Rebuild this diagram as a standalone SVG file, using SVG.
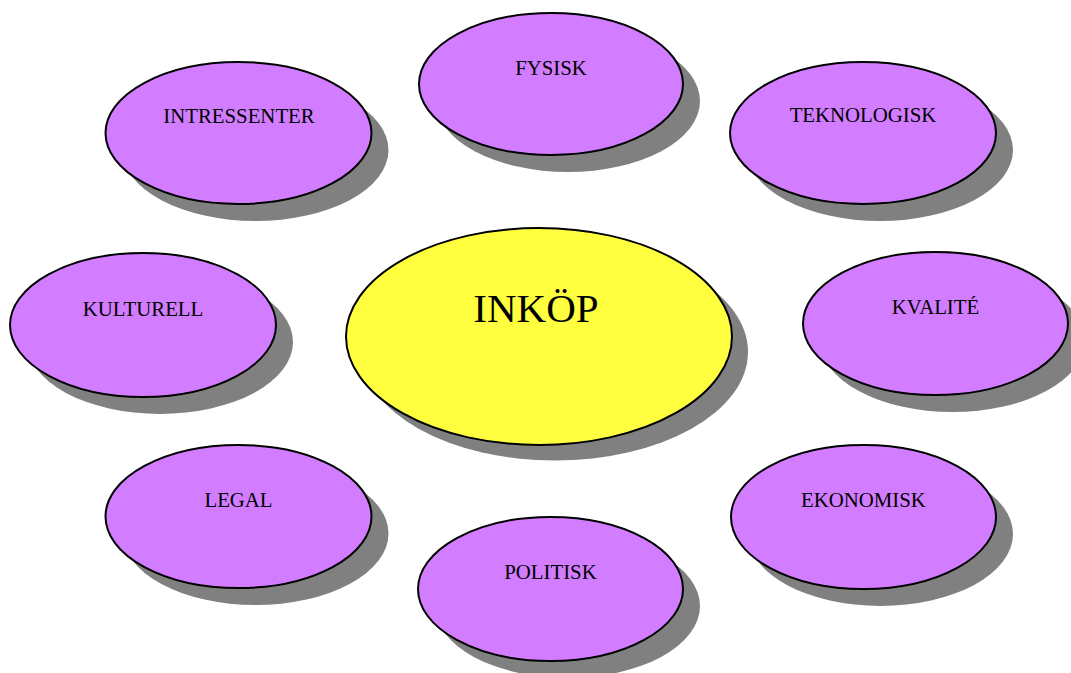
<svg xmlns="http://www.w3.org/2000/svg" width="1071" height="673" viewBox="0 0 1071 673">
<style>
.sh{fill:#808080;}
.p{fill:#d27cff;stroke:#000;stroke-width:2;}
.y{fill:#ffff40;stroke:#000;stroke-width:2;}
.t{font-family:"Liberation Serif","Times New Roman",serif;font-size:20.8px;fill:#000;text-anchor:middle;}
.tc{font-family:"Liberation Serif","Times New Roman",serif;font-size:41px;fill:#000;text-anchor:middle;}
</style>
<rect width="1071" height="673" fill="#fff"/>
<g id="connectors"/>
<g id="fysisk"><ellipse class="sh" cx="568" cy="101" rx="132" ry="71"/><ellipse class="p" cx="551" cy="84" rx="132" ry="71"/><text class="t" x="551" y="75">FYSISK</text></g>
<g id="intressenter"><ellipse class="sh" cx="255.5" cy="150" rx="133" ry="71"/><ellipse class="p" cx="238.5" cy="133" rx="133" ry="71"/><text class="t" x="239" y="123">INTRESSENTER</text></g>
<g id="teknologisk"><ellipse class="sh" cx="880" cy="150" rx="133" ry="71"/><ellipse class="p" cx="863" cy="133" rx="133" ry="71"/><text class="t" x="863" y="122">TEKNOLOGISK</text></g>
<g id="kulturell"><ellipse class="sh" cx="160" cy="342" rx="133" ry="72"/><ellipse class="p" cx="143" cy="325" rx="133" ry="72"/><text class="t" x="143" y="316">KULTURELL</text></g>
<g id="kvalite"><ellipse class="sh" cx="952.5" cy="340.5" rx="132.5" ry="71.5"/><ellipse class="p" cx="935.5" cy="323.5" rx="132.5" ry="71.5"/><text class="t" x="935.5" y="314">KVALITÉ</text></g>
<g id="inkop"><ellipse class="sh" cx="555" cy="352" rx="193" ry="108.5"/><ellipse class="y" cx="539" cy="336.5" rx="193" ry="108.5"/><text class="tc" x="536" y="322">INKÖP</text></g>
<g id="legal"><ellipse class="sh" cx="255.5" cy="533.5" rx="133" ry="71.5"/><ellipse class="p" cx="238.5" cy="516.5" rx="133" ry="71.5"/><text class="t" x="238.5" y="507">LEGAL</text></g>
<g id="ekonomisk"><ellipse class="sh" cx="880.5" cy="534" rx="132.5" ry="72"/><ellipse class="p" cx="863.5" cy="517" rx="132.5" ry="72"/><text class="t" x="863.5" y="507">EKONOMISK</text></g>
<g id="politisk"><ellipse class="sh" cx="567.5" cy="606" rx="132.5" ry="72"/><ellipse class="p" cx="550.5" cy="589" rx="132.5" ry="72"/><text class="t" x="550.5" y="579">POLITISK</text></g>
</svg>
